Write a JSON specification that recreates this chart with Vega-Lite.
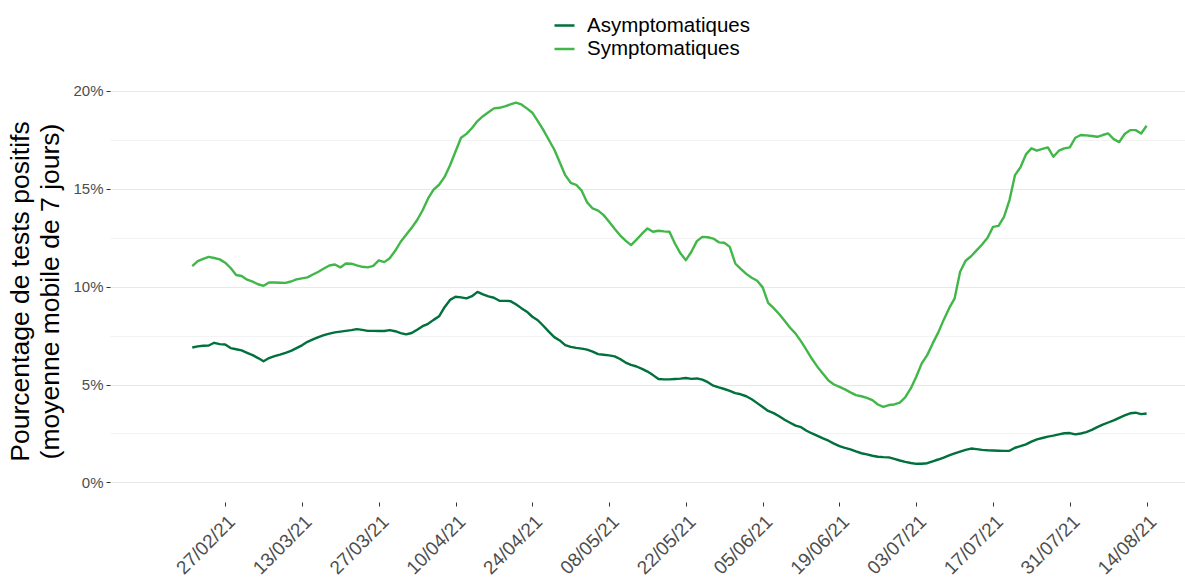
{
"$schema": "https://vega.github.io/schema/vega-lite/v6.json",
"width": 1075, "height": 422,
"autosize": {"type": "none"},
"padding": {"left": 110, "top": 80, "right": 0, "bottom": 75},
"background": "white",
"config": {"view": {"stroke": null}, "font": "Liberation Sans"},
"data": {"values": [
{"d":"2021-02-21","Asymptomatiques":6.89,"Symptomatiques":11.05},
{"d":"2021-02-22","Asymptomatiques":6.95,"Symptomatiques":11.30},
{"d":"2021-02-23","Asymptomatiques":6.98,"Symptomatiques":11.42},
{"d":"2021-02-24","Asymptomatiques":6.99,"Symptomatiques":11.52},
{"d":"2021-02-25","Asymptomatiques":7.13,"Symptomatiques":11.46},
{"d":"2021-02-26","Asymptomatiques":7.06,"Symptomatiques":11.39},
{"d":"2021-02-27","Asymptomatiques":7.04,"Symptomatiques":11.22},
{"d":"2021-02-28","Asymptomatiques":6.86,"Symptomatiques":10.95},
{"d":"2021-03-01","Asymptomatiques":6.80,"Symptomatiques":10.59},
{"d":"2021-03-02","Asymptomatiques":6.74,"Symptomatiques":10.54},
{"d":"2021-03-03","Asymptomatiques":6.62,"Symptomatiques":10.35},
{"d":"2021-03-04","Asymptomatiques":6.50,"Symptomatiques":10.25},
{"d":"2021-03-05","Asymptomatiques":6.35,"Symptomatiques":10.12},
{"d":"2021-03-06","Asymptomatiques":6.19,"Symptomatiques":10.04},
{"d":"2021-03-07","Asymptomatiques":6.35,"Symptomatiques":10.21},
{"d":"2021-03-08","Asymptomatiques":6.45,"Symptomatiques":10.21},
{"d":"2021-03-09","Asymptomatiques":6.53,"Symptomatiques":10.20},
{"d":"2021-03-10","Asymptomatiques":6.62,"Symptomatiques":10.19},
{"d":"2021-03-11","Asymptomatiques":6.72,"Symptomatiques":10.26},
{"d":"2021-03-12","Asymptomatiques":6.86,"Symptomatiques":10.37},
{"d":"2021-03-13","Asymptomatiques":7.00,"Symptomatiques":10.42},
{"d":"2021-03-14","Asymptomatiques":7.18,"Symptomatiques":10.47},
{"d":"2021-03-15","Asymptomatiques":7.30,"Symptomatiques":10.62},
{"d":"2021-03-16","Asymptomatiques":7.42,"Symptomatiques":10.76},
{"d":"2021-03-17","Asymptomatiques":7.52,"Symptomatiques":10.92},
{"d":"2021-03-18","Asymptomatiques":7.60,"Symptomatiques":11.08},
{"d":"2021-03-19","Asymptomatiques":7.66,"Symptomatiques":11.13},
{"d":"2021-03-20","Asymptomatiques":7.70,"Symptomatiques":10.98},
{"d":"2021-03-21","Asymptomatiques":7.74,"Symptomatiques":11.18},
{"d":"2021-03-22","Asymptomatiques":7.78,"Symptomatiques":11.17},
{"d":"2021-03-23","Asymptomatiques":7.83,"Symptomatiques":11.08},
{"d":"2021-03-24","Asymptomatiques":7.79,"Symptomatiques":11.01},
{"d":"2021-03-25","Asymptomatiques":7.74,"Symptomatiques":10.98},
{"d":"2021-03-26","Asymptomatiques":7.74,"Symptomatiques":11.06},
{"d":"2021-03-27","Asymptomatiques":7.73,"Symptomatiques":11.34},
{"d":"2021-03-28","Asymptomatiques":7.73,"Symptomatiques":11.25},
{"d":"2021-03-29","Asymptomatiques":7.78,"Symptomatiques":11.45},
{"d":"2021-03-30","Asymptomatiques":7.72,"Symptomatiques":11.83},
{"d":"2021-03-31","Asymptomatiques":7.62,"Symptomatiques":12.29},
{"d":"2021-04-01","Asymptomatiques":7.56,"Symptomatiques":12.65},
{"d":"2021-04-02","Asymptomatiques":7.63,"Symptomatiques":13.00},
{"d":"2021-04-03","Asymptomatiques":7.80,"Symptomatiques":13.40},
{"d":"2021-04-04","Asymptomatiques":7.98,"Symptomatiques":13.90},
{"d":"2021-04-05","Asymptomatiques":8.10,"Symptomatiques":14.50},
{"d":"2021-04-06","Asymptomatiques":8.30,"Symptomatiques":14.95},
{"d":"2021-04-07","Asymptomatiques":8.48,"Symptomatiques":15.20},
{"d":"2021-04-08","Asymptomatiques":8.95,"Symptomatiques":15.60},
{"d":"2021-04-09","Asymptomatiques":9.32,"Symptomatiques":16.20},
{"d":"2021-04-10","Asymptomatiques":9.48,"Symptomatiques":16.90},
{"d":"2021-04-11","Asymptomatiques":9.45,"Symptomatiques":17.60},
{"d":"2021-04-12","Asymptomatiques":9.40,"Symptomatiques":17.80},
{"d":"2021-04-13","Asymptomatiques":9.51,"Symptomatiques":18.10},
{"d":"2021-04-14","Asymptomatiques":9.73,"Symptomatiques":18.45},
{"d":"2021-04-15","Asymptomatiques":9.60,"Symptomatiques":18.70},
{"d":"2021-04-16","Asymptomatiques":9.50,"Symptomatiques":18.90},
{"d":"2021-04-17","Asymptomatiques":9.43,"Symptomatiques":19.10},
{"d":"2021-04-18","Asymptomatiques":9.28,"Symptomatiques":19.13},
{"d":"2021-04-19","Asymptomatiques":9.27,"Symptomatiques":19.20},
{"d":"2021-04-20","Asymptomatiques":9.26,"Symptomatiques":19.30},
{"d":"2021-04-21","Asymptomatiques":9.10,"Symptomatiques":19.39},
{"d":"2021-04-22","Asymptomatiques":8.90,"Symptomatiques":19.30},
{"d":"2021-04-23","Asymptomatiques":8.72,"Symptomatiques":19.10},
{"d":"2021-04-24","Asymptomatiques":8.46,"Symptomatiques":18.88},
{"d":"2021-04-25","Asymptomatiques":8.28,"Symptomatiques":18.45},
{"d":"2021-04-26","Asymptomatiques":8.00,"Symptomatiques":18.00},
{"d":"2021-04-27","Asymptomatiques":7.70,"Symptomatiques":17.50},
{"d":"2021-04-28","Asymptomatiques":7.42,"Symptomatiques":17.00},
{"d":"2021-04-29","Asymptomatiques":7.25,"Symptomatiques":16.35},
{"d":"2021-04-30","Asymptomatiques":7.01,"Symptomatiques":15.69},
{"d":"2021-05-01","Asymptomatiques":6.92,"Symptomatiques":15.30},
{"d":"2021-05-02","Asymptomatiques":6.87,"Symptomatiques":15.20},
{"d":"2021-05-03","Asymptomatiques":6.83,"Symptomatiques":14.90},
{"d":"2021-05-04","Asymptomatiques":6.78,"Symptomatiques":14.30},
{"d":"2021-05-05","Asymptomatiques":6.68,"Symptomatiques":13.99},
{"d":"2021-05-06","Asymptomatiques":6.55,"Symptomatiques":13.88},
{"d":"2021-05-07","Asymptomatiques":6.52,"Symptomatiques":13.65},
{"d":"2021-05-08","Asymptomatiques":6.49,"Symptomatiques":13.31},
{"d":"2021-05-09","Asymptomatiques":6.44,"Symptomatiques":12.95},
{"d":"2021-05-10","Asymptomatiques":6.30,"Symptomatiques":12.62},
{"d":"2021-05-11","Asymptomatiques":6.12,"Symptomatiques":12.35},
{"d":"2021-05-12","Asymptomatiques":6.00,"Symptomatiques":12.12},
{"d":"2021-05-13","Asymptomatiques":5.92,"Symptomatiques":12.40},
{"d":"2021-05-14","Asymptomatiques":5.80,"Symptomatiques":12.70},
{"d":"2021-05-15","Asymptomatiques":5.66,"Symptomatiques":12.97},
{"d":"2021-05-16","Asymptomatiques":5.48,"Symptomatiques":12.80},
{"d":"2021-05-17","Asymptomatiques":5.28,"Symptomatiques":12.85},
{"d":"2021-05-18","Asymptomatiques":5.26,"Symptomatiques":12.82},
{"d":"2021-05-19","Asymptomatiques":5.26,"Symptomatiques":12.80},
{"d":"2021-05-20","Asymptomatiques":5.28,"Symptomatiques":12.20},
{"d":"2021-05-21","Asymptomatiques":5.30,"Symptomatiques":11.70},
{"d":"2021-05-22","Asymptomatiques":5.33,"Symptomatiques":11.35},
{"d":"2021-05-23","Asymptomatiques":5.29,"Symptomatiques":11.78},
{"d":"2021-05-24","Asymptomatiques":5.31,"Symptomatiques":12.32},
{"d":"2021-05-25","Asymptomatiques":5.25,"Symptomatiques":12.54},
{"d":"2021-05-26","Asymptomatiques":5.12,"Symptomatiques":12.52},
{"d":"2021-05-27","Asymptomatiques":4.94,"Symptomatiques":12.45},
{"d":"2021-05-28","Asymptomatiques":4.85,"Symptomatiques":12.26},
{"d":"2021-05-29","Asymptomatiques":4.77,"Symptomatiques":12.24},
{"d":"2021-05-30","Asymptomatiques":4.68,"Symptomatiques":12.03},
{"d":"2021-05-31","Asymptomatiques":4.56,"Symptomatiques":11.18},
{"d":"2021-06-01","Asymptomatiques":4.50,"Symptomatiques":10.90},
{"d":"2021-06-02","Asymptomatiques":4.40,"Symptomatiques":10.65},
{"d":"2021-06-03","Asymptomatiques":4.25,"Symptomatiques":10.45},
{"d":"2021-06-04","Asymptomatiques":4.05,"Symptomatiques":10.30},
{"d":"2021-06-05","Asymptomatiques":3.85,"Symptomatiques":9.96},
{"d":"2021-06-06","Asymptomatiques":3.65,"Symptomatiques":9.17},
{"d":"2021-06-07","Asymptomatiques":3.54,"Symptomatiques":8.90},
{"d":"2021-06-08","Asymptomatiques":3.38,"Symptomatiques":8.60},
{"d":"2021-06-09","Asymptomatiques":3.20,"Symptomatiques":8.25},
{"d":"2021-06-10","Asymptomatiques":3.05,"Symptomatiques":7.90},
{"d":"2021-06-11","Asymptomatiques":2.90,"Symptomatiques":7.60},
{"d":"2021-06-12","Asymptomatiques":2.82,"Symptomatiques":7.20},
{"d":"2021-06-13","Asymptomatiques":2.64,"Symptomatiques":6.76},
{"d":"2021-06-14","Asymptomatiques":2.50,"Symptomatiques":6.30},
{"d":"2021-06-15","Asymptomatiques":2.38,"Symptomatiques":5.90},
{"d":"2021-06-16","Asymptomatiques":2.25,"Symptomatiques":5.55},
{"d":"2021-06-17","Asymptomatiques":2.13,"Symptomatiques":5.20},
{"d":"2021-06-18","Asymptomatiques":1.98,"Symptomatiques":5.00},
{"d":"2021-06-19","Asymptomatiques":1.85,"Symptomatiques":4.88},
{"d":"2021-06-20","Asymptomatiques":1.76,"Symptomatiques":4.75},
{"d":"2021-06-21","Asymptomatiques":1.69,"Symptomatiques":4.60},
{"d":"2021-06-22","Asymptomatiques":1.58,"Symptomatiques":4.46},
{"d":"2021-06-23","Asymptomatiques":1.49,"Symptomatiques":4.40},
{"d":"2021-06-24","Asymptomatiques":1.43,"Symptomatiques":4.32},
{"d":"2021-06-25","Asymptomatiques":1.36,"Symptomatiques":4.20},
{"d":"2021-06-26","Asymptomatiques":1.31,"Symptomatiques":3.98},
{"d":"2021-06-27","Asymptomatiques":1.29,"Symptomatiques":3.86},
{"d":"2021-06-28","Asymptomatiques":1.28,"Symptomatiques":3.95},
{"d":"2021-06-29","Asymptomatiques":1.20,"Symptomatiques":3.98},
{"d":"2021-06-30","Asymptomatiques":1.12,"Symptomatiques":4.07},
{"d":"2021-07-01","Asymptomatiques":1.05,"Symptomatiques":4.35},
{"d":"2021-07-02","Asymptomatiques":0.99,"Symptomatiques":4.80},
{"d":"2021-07-03","Asymptomatiques":0.95,"Symptomatiques":5.40},
{"d":"2021-07-04","Asymptomatiques":0.95,"Symptomatiques":6.08},
{"d":"2021-07-05","Asymptomatiques":0.98,"Symptomatiques":6.50},
{"d":"2021-07-06","Asymptomatiques":1.08,"Symptomatiques":7.10},
{"d":"2021-07-07","Asymptomatiques":1.17,"Symptomatiques":7.65},
{"d":"2021-07-08","Asymptomatiques":1.27,"Symptomatiques":8.30},
{"d":"2021-07-09","Asymptomatiques":1.38,"Symptomatiques":8.90},
{"d":"2021-07-10","Asymptomatiques":1.48,"Symptomatiques":9.40},
{"d":"2021-07-11","Asymptomatiques":1.57,"Symptomatiques":10.76},
{"d":"2021-07-12","Asymptomatiques":1.66,"Symptomatiques":11.32},
{"d":"2021-07-13","Asymptomatiques":1.73,"Symptomatiques":11.55},
{"d":"2021-07-14","Asymptomatiques":1.70,"Symptomatiques":11.85},
{"d":"2021-07-15","Asymptomatiques":1.66,"Symptomatiques":12.15},
{"d":"2021-07-16","Asymptomatiques":1.64,"Symptomatiques":12.49},
{"d":"2021-07-17","Asymptomatiques":1.63,"Symptomatiques":13.05},
{"d":"2021-07-18","Asymptomatiques":1.62,"Symptomatiques":13.10},
{"d":"2021-07-19","Asymptomatiques":1.61,"Symptomatiques":13.56},
{"d":"2021-07-20","Asymptomatiques":1.62,"Symptomatiques":14.42},
{"d":"2021-07-21","Asymptomatiques":1.77,"Symptomatiques":15.69},
{"d":"2021-07-22","Asymptomatiques":1.85,"Symptomatiques":16.09},
{"d":"2021-07-23","Asymptomatiques":1.94,"Symptomatiques":16.75},
{"d":"2021-07-24","Asymptomatiques":2.08,"Symptomatiques":17.06},
{"d":"2021-07-25","Asymptomatiques":2.20,"Symptomatiques":16.94},
{"d":"2021-07-26","Asymptomatiques":2.27,"Symptomatiques":17.03},
{"d":"2021-07-27","Asymptomatiques":2.34,"Symptomatiques":17.11},
{"d":"2021-07-28","Asymptomatiques":2.39,"Symptomatiques":16.63},
{"d":"2021-07-29","Asymptomatiques":2.45,"Symptomatiques":16.94},
{"d":"2021-07-30","Asymptomatiques":2.51,"Symptomatiques":17.06},
{"d":"2021-07-31","Asymptomatiques":2.52,"Symptomatiques":17.11},
{"d":"2021-08-01","Asymptomatiques":2.45,"Symptomatiques":17.60},
{"d":"2021-08-02","Asymptomatiques":2.50,"Symptomatiques":17.74},
{"d":"2021-08-03","Asymptomatiques":2.57,"Symptomatiques":17.72},
{"d":"2021-08-04","Asymptomatiques":2.68,"Symptomatiques":17.69},
{"d":"2021-08-05","Asymptomatiques":2.82,"Symptomatiques":17.65},
{"d":"2021-08-06","Asymptomatiques":2.95,"Symptomatiques":17.74},
{"d":"2021-08-07","Asymptomatiques":3.06,"Symptomatiques":17.82},
{"d":"2021-08-08","Asymptomatiques":3.17,"Symptomatiques":17.53},
{"d":"2021-08-09","Asymptomatiques":3.30,"Symptomatiques":17.38},
{"d":"2021-08-10","Asymptomatiques":3.42,"Symptomatiques":17.79},
{"d":"2021-08-11","Asymptomatiques":3.53,"Symptomatiques":17.99},
{"d":"2021-08-12","Asymptomatiques":3.56,"Symptomatiques":17.99},
{"d":"2021-08-13","Asymptomatiques":3.49,"Symptomatiques":17.82},
{"d":"2021-08-14","Asymptomatiques":3.52,"Symptomatiques":18.21}
]},
"transform": [{"fold": ["Asymptomatiques", "Symptomatiques"], "as": ["serie", "valeur"]}],
"mark": {"type": "line", "strokeWidth": 2.4, "strokeJoin": "round"},
"encoding": {
  "x": {
    "field": "d", "type": "temporal",
    "scale": {"type": "utc", "domain": [{"year": 2021, "month": 2, "date": 6, "utc": true}, {"year": 2021, "month": 8, "date": 21, "utc": true}]},
    "axis": {
      "values": [
        {"year": 2021, "month": 2, "date": 27, "utc": true},
        {"year": 2021, "month": 3, "date": 13, "utc": true},
        {"year": 2021, "month": 3, "date": 27, "utc": true},
        {"year": 2021, "month": 4, "date": 10, "utc": true},
        {"year": 2021, "month": 4, "date": 24, "utc": true},
        {"year": 2021, "month": 5, "date": 8, "utc": true},
        {"year": 2021, "month": 5, "date": 22, "utc": true},
        {"year": 2021, "month": 6, "date": 5, "utc": true},
        {"year": 2021, "month": 6, "date": 19, "utc": true},
        {"year": 2021, "month": 7, "date": 3, "utc": true},
        {"year": 2021, "month": 7, "date": 17, "utc": true},
        {"year": 2021, "month": 7, "date": 31, "utc": true},
        {"year": 2021, "month": 8, "date": 14, "utc": true}
      ],
      "format": "%d/%m/%y",
      "title": null,
      "grid": false,
      "domain": false,
      "labelAngle": -45,
      "labelAlign": "right",
      "labelBaseline": "top",
      "labelFontSize": 19,
      "labelColor": "#4d4d4d",
      "labelPadding": 6,
      "tickSize": 4,
      "tickColor": "#333333",
      "labelOverlap": false,
      "labelFlush": false
    }
  },
  "y": {
    "field": "valeur", "type": "quantitative",
    "scale": {"domain": [-1.0, 20.55], "nice": false, "zero": false},
    "axis": {
      "values": [0, 2.5, 5, 7.5, 10, 12.5, 15, 17.5, 20],
      "labelExpr": "datum.value % 5 === 0 ? datum.value + '%' : ''",
      "title": ["Pourcentage de tests positifs", "(moyenne mobile de 7 jours)"],
      "titleFontSize": 26.5,
      "titleFontWeight": "normal",
      "titleColor": "#000000",
      "titleAngle": -90,
      "titleAlign": "center",
      "titleBaseline": "top",
      "titleX": -103,
      "titleY": 211,
      "titleLineHeight": 30,
      "grid": true,
      "gridColor": {"condition": {"test": "datum.value % 5 === 0", "value": "#e8e8e8"}, "value": "#f0f0f0"},
      "gridWidth": {"condition": {"test": "datum.value % 5 === 0", "value": 1.2}, "value": 0.8},
      "tickOpacity": {"condition": {"test": "datum.value % 5 === 0", "value": 1}, "value": 0},
      "tickColor": "#333333",
      "tickSize": 4,
      "domain": false,
      "labelFontSize": 15,
      "labelColor": "#4d4d4d",
      "labelPadding": 3
    }
  },
  "color": {
    "field": "serie", "type": "nominal",
    "scale": {"domain": ["Asymptomatiques", "Symptomatiques"], "range": ["#00703c", "#41b649"]},
    "legend": {
      "title": null,
      "orient": "none",
      "legendX": 443,
      "legendY": -66,
      "direction": "vertical",
      "padding": 0,
      "symbolType": "stroke",
      "symbolSize": 400,
      "symbolStrokeWidth": 2.5,
      "labelFontSize": 20.5,
      "labelLimit": 400,
      "labelColor": "#000000",
      "labelOffset": 11,
      "rowPadding": 1.5
    }
  }
}
}
